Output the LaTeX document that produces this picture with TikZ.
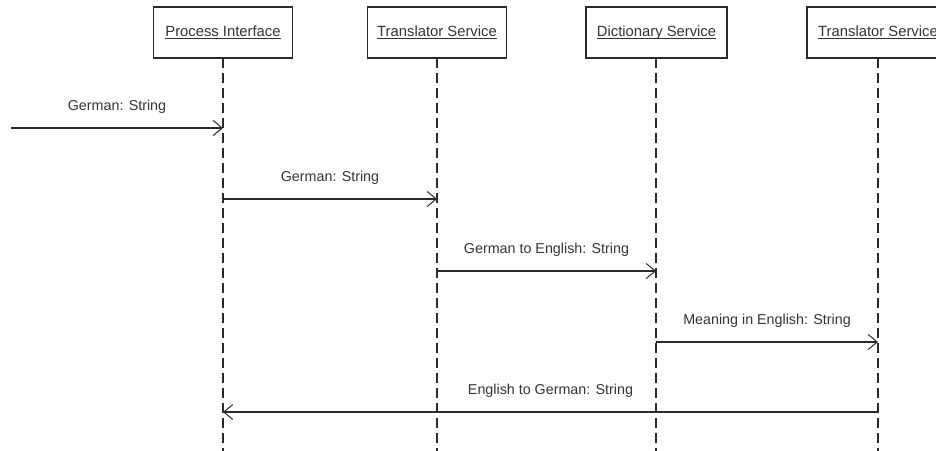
\documentclass[tikz,border=0pt]{standalone}
\usepackage{fontspec}
\setmainfont{Liberation Sans}
\usetikzlibrary{arrows.meta}
\definecolor{ink}{HTML}{333333}
\definecolor{linec}{HTML}{2A2A2A}
\newcommand\ulbl[1]{\setbox0\hbox{#1}\rlap{\rule[-2.4pt]{\wd0}{0.9pt}}\box0}
\tikzset{
  objbox/.style={draw=linec, line width=1.2pt, fill=white, minimum width=139pt, minimum height=51pt, inner sep=0pt, text=ink, font=\fontsize{14.8}{16}\selectfont},
  lifeline/.style={draw=linec, line width=1.2pt, dash pattern=on 10pt off 5pt},
  msg/.style={draw=linec, line width=1.1pt, -{Straight Barb[length=9pt,width=15pt,line width=1pt]}},
  msglbl/.style={midway, yshift=21pt, text=ink, font=\fontsize{14.3}{16}\selectfont, inner sep=0pt}
}
\begin{document}
\begin{tikzpicture}[x=1pt,y=-1pt]
\useasboundingbox (0,0) rectangle (936,450);
\begin{scope}
\clip (0,0) rectangle (936,450);
% lifeline coordinates
\coordinate (l1) at (223,58);
\coordinate (l2) at (437,58);
\coordinate (l3) at (656,58);
\coordinate (l4) at (878,58);
\coordinate (e1) at (223,455);
\coordinate (e2) at (437,455);
\coordinate (e3) at (656,455);
\coordinate (e4) at (878,455);
\draw[lifeline] (l1) -- (e1);
\draw[lifeline] (l2) -- (e2);
\draw[lifeline] (l3) -- (e3);
\draw[lifeline] (l4) -- (e4);
% boxes
\node[objbox] (pi) at (223,32.5) {\ulbl{Process Interface}};
\node[objbox] (ts) at (437,32.5) {\ulbl{Translator Service}};
\node[objbox, minimum width=141pt] (ds) at (656.5,32.5) {\ulbl{Dictionary Service}};
\node[objbox, minimum width=142pt] (ts2) at (878,32.5) {\ulbl{Translator Service}};
% message endpoints
\coordinate (start) at (11,128);
\coordinate (a1) at (223,128);
\coordinate (b1) at (223,199);
\coordinate (b2) at (437,199);
\coordinate (c2) at (437,271);
\coordinate (c3) at (656,271);
\coordinate (d3) at (656,342);
\coordinate (d4) at (878,342);
\coordinate (f4) at (878,412);
\coordinate (f1) at (223,412);
\draw[msg] (start) -- (a1) node[msglbl] {German: String};
\draw[msg] (b1) -- (b2) node[msglbl] {German: String};
\draw[msg] (c2) -- (c3) node[msglbl] {German to English: String};
\draw[msg] (d3) -- (d4) node[msglbl] {Meaning in English: String};
\draw[msg] (f4) -- (f1) node[msglbl] {English to German: String};
\end{scope}
\end{tikzpicture}
\end{document}
